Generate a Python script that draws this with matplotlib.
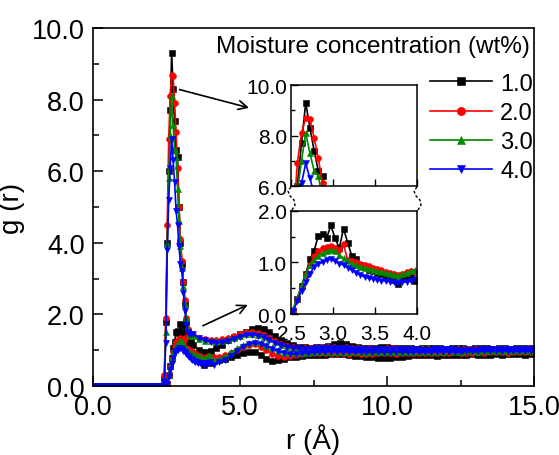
import numpy as np
import matplotlib
matplotlib.use('Agg')
from matplotlib import pyplot as plt
from matplotlib.lines import Line2D
from matplotlib.ticker import MultipleLocator, FormatStrFormatter

plt.rcParams['font.family'] = ['Liberation Sans', 'DejaVu Sans']

# sampling grids (r in Angstrom)
r_base = np.linspace(0.0, 2.4, 25)
r_spike = np.linspace(2.425, 3.325, 19)
r_a_tail = np.linspace(3.4, 15.0, 59)
r_b_near = np.linspace(2.525, 3.975, 30)
r_b_tail = np.linspace(4.1, 14.9, 55)

labels = ['1.0', '2.0', '3.0', '4.0']

g_baseline = [0.0, 0.0, 0.0, 0.0, 0.0, 0.0, 0.0, 0.0, 0.0, 0.0,
              0.0, 0.0, 0.0, 0.0, 0.0, 0.0, 0.0, 0.0, 0.0, 0.0,
              0.0, 0.0, 0.0, 0.0, 0.0]

# first (sharp) peak
black_spike = [0.2, 1.8, 4.0, 6.0, 7.7, 9.3, 8.3, 7.4, 6.6, 6.4, 5.0, 4.0, 3.4, 2.9, 2.3, 1.8, 1.5, 1.35, 1.25]
red_spike = [0.3, 1.9, 4.5, 6.9, 8.1, 8.7, 8.65, 7.9, 7.1, 6.1, 5.0, 4.1, 3.5, 2.9, 2.4, 1.9, 1.6, 1.45, 1.42]
green_spike = [0.2, 1.5, 4.0, 5.8, 7.0, 8.1, 7.3, 6.6, 6.4, 5.5, 4.6, 3.9, 3.3, 2.8, 2.3, 1.9, 1.6, 1.45, 1.4]
blue_spike = [0.1, 1.2, 3.8, 5.2, 6.1, 6.9, 6.3, 5.7, 4.9, 4.5, 3.9, 3.4, 3.2, 2.6, 2.1, 1.7, 1.5, 1.45, 1.45]

black_a_tail = [1.15, 1.00, 0.95, 0.98, 1.05, 1.15, 1.28, 1.38, 1.45, 1.52,
                1.58, 1.62, 1.58, 1.52, 1.40, 1.28, 1.20, 1.14, 1.10, 1.08,
                1.07, 1.08, 1.10, 1.12, 1.16, 1.20, 1.18, 1.12, 1.08, 1.06,
                1.05, 1.07, 1.09, 1.08, 1.06, 1.05, 1.07, 1.06, 1.04, 1.05,
                1.07, 1.06, 1.05, 1.04, 1.06, 1.07, 1.05, 1.04, 1.05, 1.06,
                1.05, 1.04, 1.06, 1.05, 1.04, 1.05, 1.06, 1.05, 1.05]
red_a_tail = [1.42, 1.35, 1.30, 1.28, 1.28, 1.30, 1.34, 1.40, 1.46, 1.50,
              1.51, 1.49, 1.43, 1.34, 1.25, 1.17, 1.12, 1.09, 1.07, 1.06,
              1.06, 1.07, 1.08, 1.09, 1.08, 1.07, 1.08, 1.06, 1.05, 1.04,
              1.05, 1.04, 1.04, 1.05, 1.06, 1.04, 1.03, 1.04, 1.03, 1.03,
              1.04, 1.03, 1.02, 1.03, 1.04, 1.03, 1.02, 1.03, 1.03, 1.04,
              1.03, 1.02, 1.03, 1.04, 1.03, 1.04, 1.04, 1.05, 1.04]
green_a_tail = [1.40, 1.32, 1.27, 1.25, 1.25, 1.27, 1.30, 1.35, 1.40, 1.44,
                1.45, 1.43, 1.38, 1.30, 1.22, 1.15, 1.10, 1.07, 1.05, 1.05,
                1.05, 1.06, 1.07, 1.07, 1.06, 1.06, 1.05, 1.04, 1.04, 1.03,
                1.03, 1.03, 1.04, 1.04, 1.03, 1.03, 1.03, 1.02, 1.02, 1.02,
                1.02, 1.03, 1.03, 1.02, 1.02, 1.02, 1.02, 1.02, 1.02, 1.03,
                1.03, 1.03, 1.02, 1.02, 1.03, 1.03, 1.03, 1.04, 1.04]
blue_a_tail = [1.45, 1.35, 1.28, 1.22, 1.20, 1.22, 1.26, 1.32, 1.38, 1.42,
               1.43, 1.41, 1.36, 1.28, 1.20, 1.14, 1.10, 1.07, 1.05, 1.04,
               1.04, 1.05, 1.06, 1.06, 1.06, 1.05, 1.05, 1.04, 1.03, 1.02,
               1.02, 1.02, 1.02, 1.03, 1.03, 1.03, 1.02, 1.02, 1.02, 1.01,
               1.01, 1.02, 1.02, 1.02, 1.02, 1.01, 1.01, 1.01, 1.01, 1.02,
               1.02, 1.02, 1.02, 1.02, 1.02, 1.02, 1.03, 1.03, 1.03]

# second (broad) curve
black_b_near = [0.06, 0.30, 0.55, 0.78, 1.06, 1.23, 1.52, 1.55, 1.48, 1.72,
                1.47, 1.28, 1.66, 1.38, 1.12, 1.07, 0.96, 0.92, 0.85, 0.83,
                0.80, 0.77, 0.74, 0.70, 0.66, 0.58, 0.68, 0.70, 0.71, 0.65]
red_b_near = [0.08, 0.30, 0.52, 0.75, 0.95, 1.12, 1.22, 1.28, 1.30, 1.33,
              1.28, 1.25, 1.35, 1.05, 1.02, 1.00, 0.98, 0.96, 0.93, 0.90,
              0.87, 0.85, 0.82, 0.80, 0.78, 0.75, 0.78, 0.82, 0.84, 0.82]
green_b_near = [0.10, 0.32, 0.55, 0.78, 0.95, 1.05, 1.12, 1.18, 1.22, 1.25,
                1.22, 1.15, 1.08, 1.03, 0.98, 0.95, 0.92, 0.90, 0.88, 0.86,
                0.84, 0.82, 0.80, 0.78, 0.76, 0.74, 0.77, 0.80, 0.83, 0.85]
blue_b_near = [0.05, 0.25, 0.45, 0.62, 0.78, 0.92, 0.98, 1.00, 1.05, 1.07,
               1.02, 0.98, 0.95, 0.90, 0.85, 0.80, 0.76, 0.72, 0.70, 0.68,
               0.66, 0.65, 0.64, 0.63, 0.62, 0.60, 0.62, 0.63, 0.65, 0.68]

black_b_tail = [0.70, 0.72, 0.76, 0.80, 0.86, 0.92, 0.96, 0.95, 0.88, 0.76,
                0.70, 0.72, 0.76, 0.80, 0.82, 0.85, 0.86, 0.87, 0.86, 0.87,
                0.89, 0.90, 0.90, 0.88, 0.85, 0.83, 0.82, 0.80, 0.78, 0.77,
                0.78, 0.80, 0.82, 0.84, 0.86, 0.86, 0.87, 0.86, 0.85, 0.87,
                0.88, 0.87, 0.86, 0.88, 0.89, 0.88, 0.87, 0.88, 0.89, 0.88,
                0.89, 0.90, 0.89, 0.88, 0.90]
red_b_tail = [0.80, 0.82, 0.86, 0.92, 1.00, 1.08, 1.14, 1.16, 1.10, 1.00,
              0.90, 0.84, 0.82, 0.84, 0.87, 0.90, 0.91, 0.92, 0.91, 0.92,
              0.93, 0.92, 0.91, 0.90, 0.91, 0.90, 0.89, 0.90, 0.91, 0.92,
              0.91, 0.90, 0.91, 0.92, 0.93, 0.92, 0.91, 0.92, 0.93, 0.92,
              0.93, 0.94, 0.93, 0.92, 0.93, 0.94, 0.93, 0.94, 0.95, 0.94,
              0.93, 0.94, 0.95, 0.94, 0.95]
green_b_tail = [0.70, 0.76, 0.84, 0.95, 1.05, 1.14, 1.20, 1.22, 1.20, 1.13,
                1.05, 0.98, 0.93, 0.91, 0.91, 0.92, 0.93, 0.94, 0.95, 0.95,
                0.96, 0.96, 0.95, 0.95, 0.94, 0.94, 0.93, 0.94, 0.94, 0.95,
                0.95, 0.96, 0.95, 0.95, 0.96, 0.96, 0.96, 0.95, 0.96, 0.96,
                0.97, 0.96, 0.96, 0.97, 0.97, 0.96, 0.97, 0.97, 0.98, 0.97,
                0.97, 0.98, 0.98, 0.97, 0.98]
blue_b_tail = [0.60, 0.66, 0.74, 0.85, 0.98, 1.10, 1.18, 1.20, 1.18, 1.12,
               1.04, 0.97, 0.92, 0.90, 0.90, 0.91, 0.93, 0.94, 0.95, 0.96,
               0.96, 0.96, 0.96, 0.95, 0.95, 0.94, 0.94, 0.94, 0.94, 0.95,
               0.95, 0.95, 0.95, 0.95, 0.95, 0.96, 0.96, 0.96, 0.96, 0.96,
               0.96, 0.96, 0.96, 0.97, 0.97, 0.97, 0.97, 0.97, 0.97, 0.97,
               0.98, 0.98, 0.98, 0.98, 0.98]

series = [
    (black_spike, black_a_tail, black_b_near, black_b_tail),
    (red_spike, red_a_tail, red_b_near, red_b_tail),
    (green_spike, green_a_tail, green_b_near, green_b_tail),
    (blue_spike, blue_a_tail, blue_b_near, blue_b_tail),
]
colors = ['black', '#ff0000', '#008800', '#0000ff']
markers = ['s', 'o', '^', 'v']

fig = plt.figure(figsize=(5.59, 4.56), dpi=100)
ax = fig.add_axes([0.1664, 0.1513, 0.7889, 0.7851])
ax_up = fig.add_axes([0.5206, 0.5899, 0.2254, 0.2215])
ax_lo = fig.add_axes([0.5206, 0.3092, 0.2254, 0.2259])

handles = []
for (spike, a_tail, b_near, b_tail), c, m in zip(series, colors, markers):
    ra = np.concatenate([r_base, r_spike, r_a_tail])
    ga = np.concatenate([g_baseline, spike, a_tail])
    rb = np.concatenate([r_b_near, r_b_tail])
    gb = np.concatenate([b_near, b_tail])
    h, = ax.plot(ra, ga, color=c, marker=m, ms=4.3, lw=1.2, mew=0.4)
    ax.plot(rb, gb, color=c, marker=m, ms=4.3, lw=1.2, mew=0.4)
    handles.append(h)
    ax_up.plot(r_spike, spike, color=c, marker=m, ms=4.3, lw=1.2, mew=0.4)
    ax_lo.plot(np.concatenate([r_b_near, r_b_tail[:1]]), list(b_near) + [b_tail[0]],
               color=c, marker=m, ms=4.3, lw=1.2, mew=0.4)

ax.set_xlim(0, 15)
ax.set_ylim(0, 10)
ax.xaxis.set_major_locator(MultipleLocator(5))
ax.xaxis.set_minor_locator(MultipleLocator(2.5))
ax.yaxis.set_major_locator(MultipleLocator(2))
ax.yaxis.set_minor_locator(MultipleLocator(1))
ax.xaxis.set_major_formatter(FormatStrFormatter('%.1f'))
ax.yaxis.set_major_formatter(FormatStrFormatter('%.1f'))
ax.tick_params(which='both', direction='in', labelsize=19.5, width=1.1, pad=6)
ax.tick_params(which='major', length=7)
ax.tick_params(which='minor', length=4)
for s in ax.spines.values():
    s.set_linewidth(1.2)
ax.set_xlabel('r (Å)', fontsize=20, labelpad=2)
ax.set_ylabel('g (r)', fontsize=20)
ax.yaxis.set_label_coords(-0.155, 0.5)

for a, lo, hi in [(ax_up, 6, 10), (ax_lo, 0, 2)]:
    a.set_xlim(2.5, 4.0)
    a.set_ylim(lo, hi)
    a.set_xticks([2.5, 3.0, 3.5, 4.0])
    a.yaxis.set_major_locator(MultipleLocator((hi - lo) / 2))
    a.yaxis.set_minor_locator(MultipleLocator((hi - lo) / 4))
    a.xaxis.set_major_formatter(FormatStrFormatter('%.1f'))
    a.yaxis.set_major_formatter(FormatStrFormatter('%.1f'))
    a.tick_params(which='both', direction='in', labelsize=15, width=1.0, pad=3)
    a.tick_params(axis='x', pad=7)
    a.tick_params(which='major', length=5)
    a.tick_params(which='minor', length=3)
    for s in a.spines.values():
        s.set_linewidth(1.1)
ax_up.tick_params(labelbottom=False)

ax.annotate('', xy=(5.4, 7.75), xytext=(2.85, 8.3),
            arrowprops=dict(arrowstyle='->', lw=1.2, color='black', mutation_scale=16))
ax.annotate('', xy=(5.35, 2.3), xytext=(3.65, 1.65),
            arrowprops=dict(arrowstyle='->', lw=1.2, color='black', mutation_scale=16))

ax.text(0.991, 0.95, 'Moisture concentration (wt%)', transform=ax.transAxes,
        ha='right', va='center', fontsize=17.5)
ax.legend(handles, labels, loc='upper left', bbox_to_anchor=(0.765, 0.875),
          frameon=False, fontsize=17, handlelength=2.6, handletextpad=0.35,
          labelspacing=0.3, borderpad=0, borderaxespad=0, numpoints=1,
          markerscale=1.4)

# axis break marks between the two inset panels
W, H = 559.0, 456.0
wig_x = np.array([0, -3, -1, 3, 4, 1])
wig_y = np.array([188, 192, 197, 201, 206, 211])
for x0 in (291, 417):
    fig.add_artist(Line2D((x0 + wig_x) / W, 1 - wig_y / H, transform=fig.transFigure,
                          color='black', lw=1.0, ls=(0, (2, 1.5))))

fig.savefig('out.png', dpi=100)
